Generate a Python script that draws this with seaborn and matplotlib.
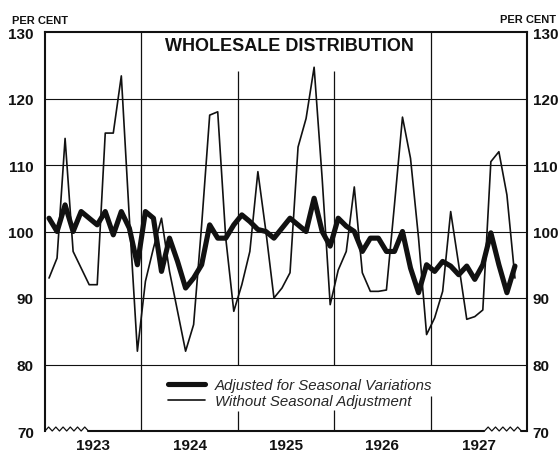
import numpy as np
import pandas as pd
import matplotlib
matplotlib.use("Agg")
import matplotlib.pyplot as plt
import seaborn as sns

# monthly index numbers, Jan 1923 - Nov 1927
adjusted = [
    102, 100, 104, 100, 103, 102, 101, 103, 99.5, 103, 100.5, 95,
    103, 102, 94, 99, 95.5, 91.5, 93, 95, 101, 99, 99, 101,
    102.5, 101.5, 100.3, 100, 99, 100.5, 102, 101, 100, 105, 100, 97.8,
    102, 100.8, 100, 97, 99, 99, 97, 97, 100, 94.5, 90.8, 95,
    94, 95.5, 94.8, 93.5, 94.8, 92.8, 95, 99.8, 95, 90.8, 94.8,
]
unadjusted = [
    93, 96, 114, 97, 94.5, 92, 92, 114.8, 114.8, 123.4, 102, 82,
    92.5, 97.5, 102, 94, 88, 82, 86, 101, 117.5, 118, 99, 88,
    92, 97, 109, 100, 90, 91.5, 93.8, 112.7, 117, 124.7, 108, 89,
    94.2, 97, 106.7, 93.8, 91, 91, 91.2, 104, 117.2, 111, 99, 84.5,
    87, 91, 103, 95, 86.8, 87.2, 88.2, 110.5, 112, 105.5, 93,
]
years = ["1923", "1924", "1925", "1926", "1927"]
y_ticks = [70, 80, 90, 100, 110, 120, 130]

df = pd.DataFrame({
    "month": np.arange(len(adjusted)) + 0.5,
    "adjusted": adjusted,
    "unadjusted": unadjusted,
})

sns.set_style("white")
plt.rcParams["font.family"] = ["Liberation Sans", "DejaVu Sans"]

fig = plt.figure(figsize=(5.59, 4.52), dpi=100)
ax = fig.add_axes([45 / 559, 20 / 452, 482 / 559, 399 / 452])

ink = "#111111"
sns.lineplot(data=df, x="month", y="unadjusted", ax=ax, color=ink, lw=1.2,
             label="Without Seasonal Adjustment", zorder=4)
sns.lineplot(data=df, x="month", y="adjusted", ax=ax, color=ink, lw=3.7,
             label="Adjusted for Seasonal Variations", zorder=5)

ax.set_xlim(0, 60)
ax.set_ylim(70, 130)
ax.set_yticks(y_ticks)
ax.set_xticks([6, 18, 30, 42, 54], years)
ax.set_xlabel("")
ax.set_ylabel("")

# horizontal rules
for v in y_ticks[1:-1]:
    ax.axhline(v, color=ink, lw=0.8, zorder=1)

# year rules, broken by the title box and the legend
ax.vlines(12, 70, 130, color=ink, lw=0.9, zorder=1)
ax.vlines([24, 36], 80, 124.2, color=ink, lw=0.9, zorder=1)
ax.vlines(24, 70, 73.0, color=ink, lw=0.9, zorder=1)
ax.vlines(36, 70, 73.2, color=ink, lw=0.9, zorder=1)
ax.vlines(48, 80, 130, color=ink, lw=0.9, zorder=1)
ax.vlines(48, 70, 75.2, color=ink, lw=0.9, zorder=1)

for side in ["left", "right", "top"]:
    ax.spines[side].set_color(ink)
    ax.spines[side].set_linewidth(1.5)
ax.spines["bottom"].set_visible(False)

# broken baseline with wavy ends
zz_l = np.linspace(0, 5.4, 13)
ax.plot(zz_l, 70 + 0.6 * (np.arange(13) % 2), color=ink, lw=0.9, clip_on=False)
ax.plot([5.4, 54.7], [70, 70], color=ink, lw=1.5, clip_on=False)
zz_r = np.linspace(54.7, 59.3, 11)
ax.plot(zz_r, 70 + 0.6 * (np.arange(11) % 2), color=ink, lw=0.9, clip_on=False)
ax.plot([59.3, 60], [70, 70], color=ink, lw=1.5, clip_on=False)

ax.tick_params(axis="both", length=0, labelsize=11, colors=ink)
ax.tick_params(axis="x", pad=5)
ax.tick_params(axis="y", pad=8)
ax2 = ax.twinx()
ax2.set_ylim(70, 130)
ax2.set_yticks(y_ticks)
ax2.tick_params(axis="y", length=0, labelsize=11, pad=4, colors=ink)
for s in ax2.spines.values():
    s.set_visible(False)
for lab in ax.get_xticklabels() + ax.get_yticklabels() + ax2.get_yticklabels():
    lab.set_fontweight("bold")

ax.text(0.508, 0.965, "WHOLESALE DISTRIBUTION", transform=ax.transAxes,
        ha="center", va="center", fontsize=13, fontweight="bold", color=ink)
fig.text(12 / 559, 1 - 21 / 452, "PER CENT", ha="left", va="center",
         fontsize=8, fontweight="bold", color=ink)
fig.text(556 / 559, 1 - 20 / 452, "PER CENT", ha="right", va="center",
         fontsize=8, fontweight="bold", color=ink)

handles, labels = ax.get_legend_handles_labels()
ax.legend(handles[::-1], labels[::-1], loc="upper left",
          bbox_to_anchor=(0.255, 0.132), frameon=False,
          prop={"style": "italic", "size": 10.8}, handlelength=2.45,
          handletextpad=0.7, labelspacing=0.1, borderpad=0, borderaxespad=0)

fig.savefig("out.png", dpi=100)
